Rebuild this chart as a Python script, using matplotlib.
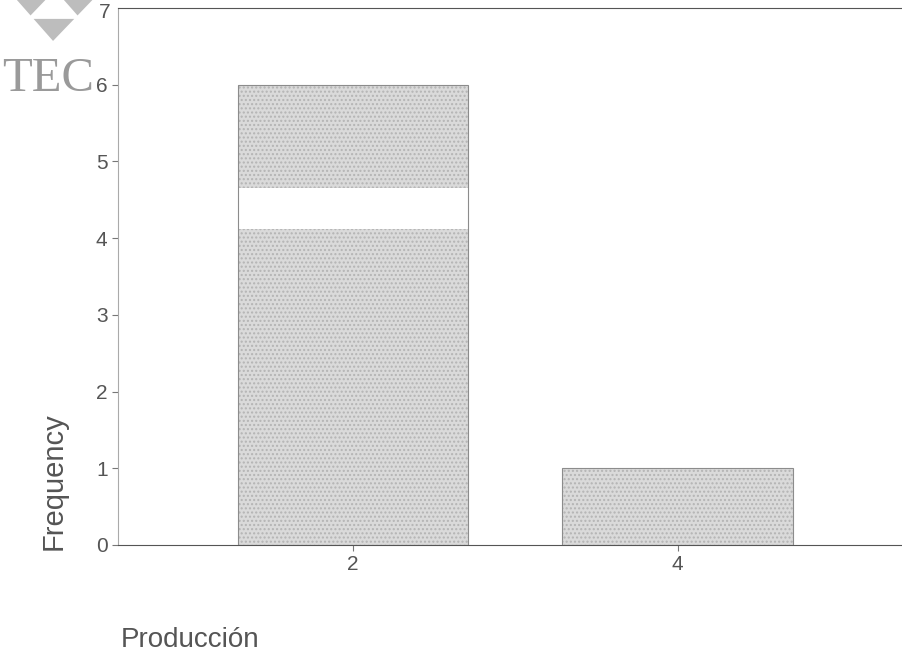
import numpy as np
import matplotlib
matplotlib.use("Agg")
import matplotlib.pyplot as plt
from matplotlib.patches import Polygon

# Data
categories = [2, 4]
frequencies = [6, 1]
yTicks = [0, 1, 2, 3, 4, 5, 6, 7]
# white scan band across the first bar (in frequency units)
gapLow = 4.12
gapHigh = 4.65

xLable = "Producción"
yLable = "Frequency"

plt.rcParams['font.family'] = ['Liberation Sans', 'DejaVu Sans']

W, H = 903, 656
fig = plt.figure(figsize=(W/100.0, H/100.0), dpi=100)
ax = fig.add_axes([118.0/W, 1 - 545.0/H, 1 - 118.0/W, (545.0 - 8.0)/H])

barWidth = 1.42
# stippled fill, then the outline on top
ax.bar(categories, frequencies, width=barWidth, color='#dadada',
       edgecolor='#b4b4b4', linewidth=0, hatch='....', zorder=2)
ax.bar(categories[0], gapHigh - gapLow, bottom=gapLow, width=barWidth,
       color='white', linewidth=0, zorder=3)
ax.bar(categories, frequencies, width=barWidth, fill=False,
       edgecolor='#8c8c8c', linewidth=0.8, zorder=4)

ax.set_xlim(0.55, 5.39)
ax.set_ylim(0, 7)
ax.set_xticks(categories)
ax.set_yticks(yTicks[:-1])
ax.tick_params(axis='both', colors='#777777', labelcolor='#555555',
               labelsize=15, length=4, width=0.8)

ax.spines['right'].set_visible(False)
ax.spines['top'].set_color('#555555')
ax.spines['bottom'].set_color('#555555')
ax.spines['left'].set_color('#aaaaaa')
ax.spines['left'].set_linestyle((0, (2, 1)))

# the "7" sits on the left of the top spine, partly over the logo
fig.text(111.0/W, 1 - 13.0/H, "7", ha='right', va='center',
         fontsize=15, color='#555555')

fig.text(54.0/W, 1 - 481.0/H, yLable, rotation=90, ha='center',
         va='center', fontsize=21, color='#555555')
fig.text(121.0/W, 1 - 647.0/H, xLable, ha='left', va='baseline',
         fontsize=20, color='#555555')

# TEC logo, top left
def px(pts):
    return [(x/W, 1 - y/H) for x, y in pts]

A, B, C = (8, -8), (102, -8), (53, 43)
mAB = ((A[0]+B[0])/2.0, (A[1]+B[1])/2.0)
mBC = ((B[0]+C[0])/2.0, (B[1]+C[1])/2.0)
mAC = ((A[0]+C[0])/2.0, (A[1]+C[1])/2.0)
for tri in [(A, mAB, mAC), (mAB, B, mBC), (mAC, mBC, C)]:
    fig.patches.append(Polygon(px(tri), closed=True, transform=fig.transFigure,
                               facecolor='#bdbdbd', edgecolor='white',
                               linewidth=2.0))
fig.text(2.0/W, 1 - 91.0/H, "TEC", ha='left', va='baseline', fontsize=35,
         family='Liberation Serif', color='#9a9a9a')

plt.savefig("out.png", dpi=100)
